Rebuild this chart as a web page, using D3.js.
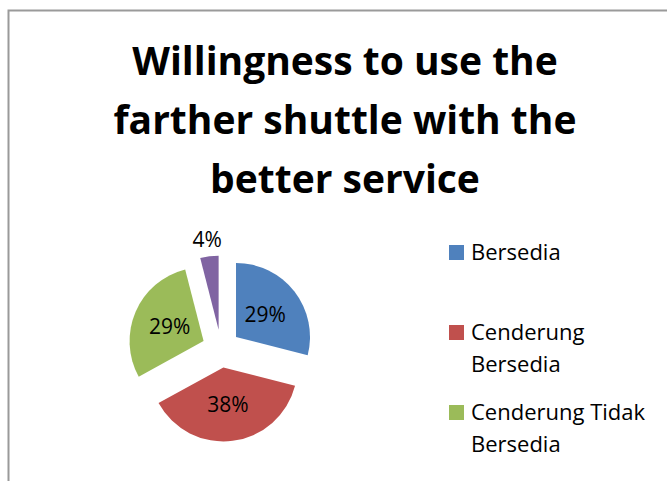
<!DOCTYPE html>
<html>
<head>
<meta charset="utf-8">
<script src="https://cdn.jsdelivr.net/npm/d3@7"></script>
<style>
  html, body { margin: 0; padding: 0; background: #fff; }
  svg { display: block; }
  text { font-family: "Open Sans", "Noto Sans", sans-serif; }
</style>
</head>
<body>
<svg id="chart" width="667" height="481"></svg>
<script>
// Survey shares (percent) per response category
const categories = ["Bersedia", "Cenderung Bersedia", "Cenderung Tidak Bersedia", "Tidak Bersedia"];
const values = [29, 38, 29, 4];
const colors = ["#4F81BD", "#C0504D", "#9BBB59", "#8064A2"];
const titleLines = ["Willingness to use the", "farther shuttle with the", "better service"];
// legend labels wrapped as they appear in the legend box
const legendLines = [["Bersedia"], ["Cenderung", "Bersedia"], ["Cenderung Tidak", "Bersedia"], ["Tidak Bersedia"]];

const W = 667, H = 481;
const svg = d3.select("#chart");

// chart area frame
svg.append("path")
  .attr("d", `M8.5,${H} V10.5 H${W}`)
  .attr("fill", "none")
  .attr("stroke", "#9a9a9a")
  .attr("stroke-width", 2);

// title
const title = svg.append("text")
  .attr("text-anchor", "middle")
  .attr("font-weight", 700)
  .attr("font-size", 39)
  .attr("fill", "#000");
titleLines.forEach((line, i) => {
  title.append("tspan")
    .attr("x", 345)
    .attr("y", 75 + i * 59)
    .text(line);
});

// pie
const cx = 221, cy = 348.6, radius = 74, explode = 19;
const pie = d3.pie().sort(null).value(d => d.value);
const arcs = pie(categories.map((c, i) => ({ cat: c, value: values[i], color: colors[i] })));
const arc = d3.arc().innerRadius(0).outerRadius(radius);
const outerLabelArc = d3.arc().innerRadius(radius + 17).outerRadius(radius + 17);

const g = svg.append("g").attr("transform", `translate(${cx},${cy})`);

const slices = g.selectAll("g.slice")
  .data(arcs)
  .join("g")
  .attr("class", "slice")
  .attr("transform", d => {
    const mid = (d.startAngle + d.endAngle) / 2;
    return `translate(${explode * Math.sin(mid)},${-explode * Math.cos(mid)})`;
  });

slices.append("path")
  .attr("d", arc)
  .attr("fill", d => d.data.color);

const total = d3.sum(values);
slices.append("text")
  .attr("text-anchor", "middle")
  .attr("dominant-baseline", "central")
  .attr("font-size", 21)
  .attr("fill", "#000")
  .attr("transform", d => {
    const p = d.data.value / total < 0.1 ? outerLabelArc.centroid(d) : arc.centroid(d);
    return `translate(${p[0]},${p[1]})`;
  })
  .text(d => `${d.data.value}%`);

// legend: rows that would run past the bottom of the chart area are dropped
const legendX = 449, legendY = 245, rowStep = 80, lineStep = 32;
const legendRows = categories
  .map((c, i) => ({ cat: c, i }))
  .filter(d => legendY + d.i * rowStep + 20 < H);

const legend = svg.append("g").attr("transform", `translate(${legendX},${legendY})`);
const items = legend.selectAll("g.item")
  .data(legendRows)
  .join("g")
  .attr("class", "item")
  .attr("transform", d => `translate(0,${d.i * rowStep})`);

items.append("rect")
  .attr("width", 15)
  .attr("height", 15)
  .attr("fill", d => colors[d.i]);

items.each(function (d) {
  const t = d3.select(this).append("text")
    .attr("font-size", 22)
    .attr("fill", "#000");
  legendLines[d.i].forEach((line, j) => {
    t.append("tspan")
      .attr("x", 22)
      .attr("y", 15 + j * lineStep)
      .text(line);
  });
});
</script>
</body>
</html>
